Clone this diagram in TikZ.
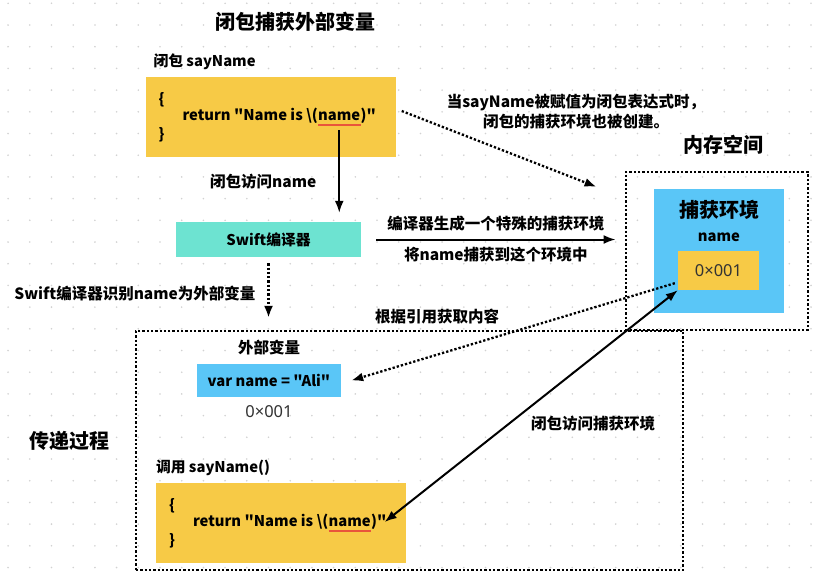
\documentclass[tikz,border=0pt]{standalone}
\usepackage{fontspec}
\setmainfont{Noto Sans CJK SC}[Ligatures=TeXOff]
\newfontfamily\latinfont{Noto Sans}
\usetikzlibrary{arrows.meta,positioning}

\definecolor{codeyellow}{HTML}{F7CA46}
\definecolor{envblue}{HTML}{5AC6F7}
\definecolor{swiftgreen}{HTML}{6DE3D1}
\definecolor{griddot}{HTML}{D2D2D2}
\definecolor{underred}{HTML}{E9553B}
\definecolor{addrgray}{HTML}{333333}

\def\dq{\symbol{34}}

\begin{document}
\begin{tikzpicture}[x=1pt,y=-1pt]
	\tikzstyle{label} = [font={\bfseries\fontsize{15.5}{20}\selectfont}, inner sep=0pt];
	\tikzstyle{bigtitle} = [font={\bfseries\fontsize{20}{24}\selectfont}, inner sep=0pt];
	\tikzstyle{codebox} = [fill=codeyellow, minimum width=250pt, minimum height=80pt, inner sep=0pt];
	\tikzstyle{codetext} = [font={\bfseries\fontsize{14.8}{18}\selectfont}, inner sep=0pt];
	\tikzstyle{addrtext} = [font={\latinfont\fontsize{16.5}{18}\selectfont}, text=addrgray];
	\tikzstyle{frame} = [draw, line width=2.3pt, dash pattern=on 2.3pt off 2pt, inner sep=0pt];
	\tikzstyle{flow} = [line width=2pt, -{Latex[length=12pt,width=9pt]}];
	\tikzstyle{dotflow} = [line width=2.3pt, dash pattern=on 2.3pt off 2pt, -{Latex[length=12pt,width=9pt]}];

	\useasboundingbox[fill=white] (0,0) rectangle (818,581);

	% dot grid
	\foreach \gx in {0,...,37} {
		\foreach \gy in {0,...,26} {
			\fill[griddot] ({8.1+21.7*\gx},{3.3+21.7*\gy}) circle (0.9pt);
		}
	}

	\node[bigtitle] (title) at (295,22) {闭包捕获外部变量};

	% frames
	\node[frame, minimum width=182pt, minimum height=158pt] (memframe) at (716.7,251) {};
	\node[frame, minimum width=547pt, minimum height=239pt] (lowframe) at (409.5,450.5) {};

	% the two closures
	\foreach \c/\bx/\by in {1/270.5/117, 2/281/523} {
		\node[codebox] (code\c) at (\bx,\by) {};
		\node[codetext, anchor=west] (code\c open) at ([xshift=13pt,yshift=17pt]code\c.west) {\{};
		\node[codetext, anchor=west] (code\c head) at ([xshift=37pt,yshift=1pt]code\c.west) {return \dq Name is \textbackslash(};
		\node[codetext, anchor=base west] (code\c name) at (code\c head.base east) {name};
		\node[codetext, anchor=base west] (code\c tail) at (code\c name.base east) {)\dq};
		\node[codetext, anchor=west] (code\c close) at ([xshift=13pt,yshift=-18pt]code\c.west) {\}};
		\draw[underred, line width=1.8pt] ([yshift=-4pt]code\c name.south west) -- ([yshift=-4pt]code\c name.south east);
	}
	\node[codetext, anchor=south west] (code1title) at ([xshift=8pt,yshift=7pt]code1.north west) {闭包 sayName};
	\node[codetext, anchor=south west] (code2title) at ([xshift=0pt,yshift=7pt]code2.north west) {调用 sayName()};

	% compiler
	\node[fill=swiftgreen, minimum width=185pt, minimum height=35pt, codetext] (swift) at (268.5,239.5) {Swift编译器};

	% memory space
	\node[bigtitle] (memtitle) at (723,145) {内存空间};
	\node[fill=envblue, minimum width=130pt, minimum height=124pt] (env) at (719,251) {};
	\node[font={\bfseries\fontsize{20}{24}\selectfont}, inner sep=0pt] (envtitle) at (719,210) {捕获环境};
	\node[codetext] (envname) at (719,237) {name};
	\node[fill=codeyellow, minimum width=81pt, minimum height=39pt, addrtext] (addr) at (718.5,270.5) {0×001};

	% outer variable
	\node[fill=envblue, minimum width=144pt, minimum height=33pt, codetext] (varbox) at (269,380.5) {var name = \dq Ali\dq};
	\node[label, above=9pt of varbox] (vartitle) {外部变量};
	\node[addrtext, inner sep=0pt, below=8pt of varbox] (varaddr) {0×001};

	\node[bigtitle] (passtitle) at (69,441) {传递过程};

	% connectors
	\draw[flow] ([yshift=-9pt]code1name.south) -- node[label, left=22pt, pos=0.62] {闭包访问name} ([yshift=9pt]code1name.south |- swift.north);
	\draw[dotflow] ([yshift=-6pt]swift.south) -- node[label, left=12pt, pos=0.55] {Swift编译器识别name为外部变量} ([yshift=12pt]swift.south |- lowframe.north);
	\draw[flow] ([xshift=15pt]swift.east) -- node[label, above=7pt] {编译器生成一个特殊的捕获环境} node[label, below=7pt] {将name捕获到这个环境中} ([xshift=-9pt]swift.east -| memframe.west);
	\draw[dotflow] ([xshift=6pt,yshift=6pt]code1.east) -- ([shift={(-28pt,-16pt)}]memframe.north west);
	\node[label, align=center] (createnote) at (576,112) {当sayName被赋值为闭包表达式时，\\闭包的捕获环境也被创建。};
	\draw[dotflow] ([shift={(-3pt,7pt)}]addr.south west) -- ([xshift=10pt]varbox.east);
	\node[label] (fetchnote) at (437,317) {根据引用获取内容};
	\draw[line width=2pt, {Latex[length=12pt,width=9pt]}-{Latex[length=12pt,width=9pt]}] ([xshift=-2pt]code2tail.east) -- (addr.south west);
	\node[label] (accessnote) at (593,424) {闭包访问捕获环境};
\end{tikzpicture}
\end{document}
